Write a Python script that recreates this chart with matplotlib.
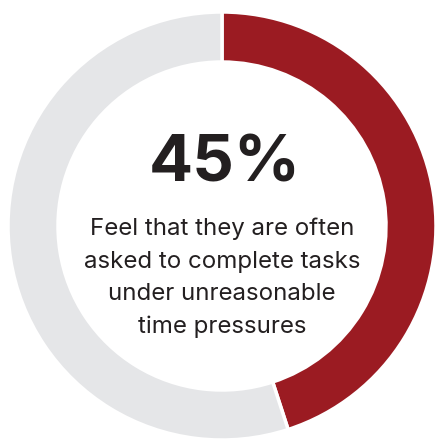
import matplotlib.pyplot as plt

# share of respondents
share = [45, 55]
colors = ['#9B1B22', '#E5E6E8']
headline = '45%'
caption = ['Feel that they are often',
           'asked to complete tasks',
           'under unreasonable',
           'time pressures']

W, H = 436, 440
fig = plt.figure(figsize=(W / 100, H / 100), dpi=100)
ax = fig.add_axes([0, 0, 1, 1])

cx, cy, r = 222, H - 226, 214
ax.pie(share, colors=colors, startangle=90, counterclock=False,
       center=(cx, cy), radius=r, frame=True,
       wedgeprops=dict(width=50, edgecolor='white', linewidth=2.5))
ax.set_xlim(0, W)
ax.set_ylim(0, H)
ax.set_aspect('equal')
ax.axis('off')

ax.text(cx + 3, H - 164, headline, ha='center', va='center',
        fontsize=47, fontweight='bold', family='Inter', color='#231F20')
for i, line in enumerate(caption):
    ax.text(cx, H - (229 + 32.5 * i), line, ha='center', va='center',
            fontsize=17.3, family='Inter', color='#231F20')

fig.savefig('out.png', dpi=100)
